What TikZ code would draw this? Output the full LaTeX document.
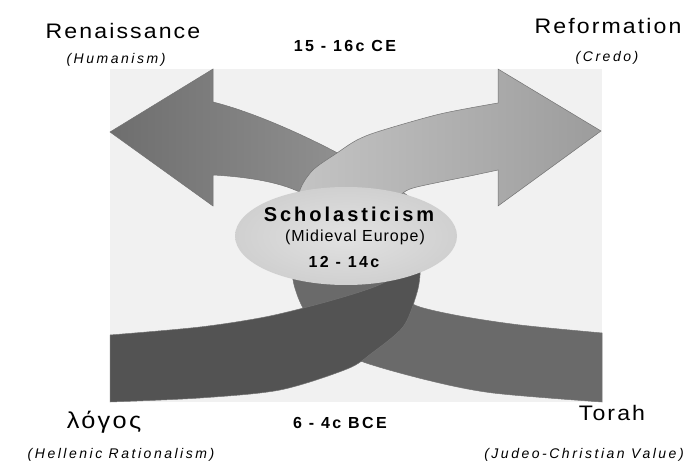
\documentclass[tikz,border=0pt]{standalone}
\usepackage{fontspec}
\setmainfont[LetterSpace=6]{Liberation Sans}
\newfontfamily\labelfont[LetterSpace=10,FakeStretch=1.1]{Liberation Sans}
\newfontfamily\subfont[LetterSpace=18]{Liberation Sans}
\newfontfamily\datefont[LetterSpace=15]{Liberation Sans}
\usetikzlibrary{shapes.geometric}
\definecolor{bggray}{HTML}{F1F1F1}
\definecolor{leftdark}{HTML}{6E6E6E}
\definecolor{leftlight}{HTML}{9C9C9C}
\definecolor{rightlight}{HTML}{C4C4C4}
\definecolor{rightdark}{HTML}{9C9C9C}
\definecolor{torahgray}{HTML}{6A6A6A}
\definecolor{logosgray}{HTML}{535353}
\definecolor{ellin}{HTML}{E2E2E2}
\definecolor{ellout}{HTML}{D0D0D0}
\begin{document}
\begin{tikzpicture}[x=1pt,y=-1pt,
		edge/.style={draw=black!55,line width=.5pt},
		maintext/.style={anchor=base,inner sep=0pt,font=\labelfont\fontsize{21}{21}\selectfont},
		subtext/.style={anchor=base,inner sep=0pt,font=\subfont\itshape\fontsize{14}{14}\selectfont},
		datetext/.style={anchor=base,inner sep=0pt,font=\datefont\bfseries\fontsize{16}{16}\selectfont}]
	\useasboundingbox(0,0)rectangle(693,462);
	\fill[bggray](110,69)rectangle(602,402);
	% band from the right, ends as the left arrow
	\path[edge,left color=leftdark,right color=leftlight](110,132)--(213,69)--(213,102)
		..controls(273,117)and(370,165)..(420,205)--(425,250)--(320,240)--(305,195)
		..controls(285,183)and(250,177)..(213,175)--(213,206)--cycle;
	\path[edge,fill=torahgray](602,333)
		--plot[smooth]coordinates{(602,333)(520,325)(460,316)(417,306)(400,293)(392,275)(390,250)}
		--(293,250)
		--plot[smooth]coordinates{(293,250)(293,280)(303,308)(325,338)(358,360)(427,380)(493,393)(602,402)}
		--cycle;
	% band from the left, ends as the right arrow
	\path[edge,left color=rightlight,right color=rightdark](601,131)--(498,69)--(498,103)
		--plot[smooth]coordinates{(498,103)(440,114)(380,131)(357,140)(337,153)(313,170)(300,190)(295,220)}
		--(390,215)
		--plot[smooth]coordinates{(390,215)(398,198)(410,189)(440,182)(470,176)(498,170)}
		--(498,206)--cycle;
	\path[edge,fill=logosgray](110,335)
		--plot[smooth]coordinates{(110,335)(200,327)(270,316)(340,298)(385,282)(400,262)(405,240)}
		--(420,240)
		--plot[smooth]coordinates{(420,240)(420,275)(416,296)(403,327)(372,353)(347,369)(280,390)(200,398)(110,402)}
		--cycle;
	\node[ellipse,minimum width=222pt,minimum height=98pt,inner color=ellin,outer color=ellout](schol)at(346,236){};
	\node[datetext,font=\datefont\bfseries\fontsize{20}{20}\selectfont](scholname)at(349,222){Scholasticism};
	\node[anchor=base,inner sep=0pt,font=\fontsize{16}{16}\selectfont](europe)at(355,242){(Midieval Europe)};
	\node[datetext](middate)at(344,268){12 - 14c};
	% labels
	\node[maintext](renaissance)at(123,39){Renaissance};
	\node[subtext](humanism)at(116,64){(Humanism)};
	\node[maintext](reformation)at(608,34){Reformation};
	\node[subtext](credo)at(607,62){(Credo)};
	\node[datetext](topdate)at(345,52){15 - 16c CE};
	\node[maintext,font=\labelfont\fontsize{23}{23}\selectfont](logos)at(104,428){λόγος};
	\node[subtext](hellenic)at(121,458){(Hellenic Rationalism)};
	\node[maintext](torah)at(612,420){Torah};
	\node[subtext](judeo)at(584,458){(Judeo-Christian Value)};
	\node[datetext](botdate)at(340,428){6 - 4c BCE};
\end{tikzpicture}
\end{document}
